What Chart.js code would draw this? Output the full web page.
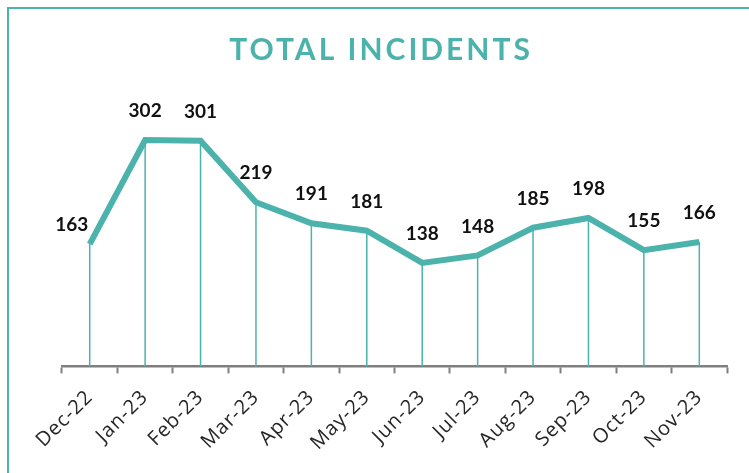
<!DOCTYPE html>
<html>
<head>
<meta charset="utf-8">
<script src="https://cdn.jsdelivr.net/npm/chart.js@4/dist/chart.umd.min.js"></script>
<style>
  html, body { margin: 0; padding: 0; background: #fff; overflow: hidden; }
  #frame {
    position: absolute; left: 7px; top: 7px; width: 900px; height: 700px;
    border: 2px solid #4bb3ac; box-sizing: border-box;
  }
  #wrap { position: absolute; left: 0; top: 0; width: 749px; height: 473px; }
</style>
</head>
<body>
<div id="frame"></div>
<div id="wrap"><canvas id="incidentsChart" width="749" height="473"></canvas></div>
<script>
// chart data
const months = ["Dec-22", "Jan-23", "Feb-23", "Mar-23", "Apr-23", "May-23",
  "Jun-23", "Jul-23", "Aug-23", "Sep-23", "Oct-23", "Nov-23"];
const incidents = [163, 302, 301, 219, 191, 181, 138, 148, 185, 198, 155, 166];
const chartTitle = "TOTAL INCIDENTS";

const teal = "#4bb3ac";

// wider letter spacing for the month labels
const tickSpacing = {
  id: "tickSpacing",
  beforeLayout(chart) { chart.ctx.letterSpacing = "1px"; },
  afterLayout(chart) { chart.ctx.letterSpacing = "0px"; },
  beforeDraw(chart) { chart.ctx.letterSpacing = "1px"; },
  afterDraw(chart) { chart.ctx.letterSpacing = "0px"; }
};

// spaced-out title drawn at the top
const spacedTitle = {
  id: "spacedTitle",
  afterDraw(chart) {
    const ctx = chart.ctx;
    ctx.save();
    ctx.font = "bold 30px Lato";
    ctx.letterSpacing = "3px";
    ctx.fillStyle = teal;
    ctx.textAlign = "center";
    ctx.textBaseline = "alphabetic";
    ctx.fillText(chartTitle, 381, 60);
    ctx.restore();
  }
};

// thin vertical lines from each point down to the x axis
const dropLines = {
  id: "dropLines",
  beforeDatasetsDraw(chart) {
    const ctx = chart.ctx;
    const meta = chart.getDatasetMeta(0);
    const bottom = chart.scales.y.getPixelForValue(0);
    ctx.save();
    ctx.strokeStyle = teal;
    ctx.lineWidth = 1.5;
    meta.data.forEach(pt => {
      ctx.beginPath();
      ctx.moveTo(pt.x, pt.y);
      ctx.lineTo(pt.x, bottom);
      ctx.stroke();
    });
    ctx.restore();
  }
};

// value labels above points (first one sits up-left of its point)
const valueLabels = {
  id: "valueLabels",
  afterDatasetsDraw(chart) {
    const ctx = chart.ctx;
    const meta = chart.getDatasetMeta(0);
    ctx.save();
    ctx.font = "bold 19px Lato";
    ctx.letterSpacing = "0px";
    ctx.fillStyle = "#111";
    ctx.textAlign = "center";
    ctx.textBaseline = "middle";
    meta.data.forEach((pt, i) => {
      const dx = i === 0 ? -18 : 0;
      const dy = i === 0 ? -19 : -29;
      ctx.fillText(incidents[i], pt.x + dx, pt.y + dy);
    });
    ctx.restore();
  }
};

window.onload = function () {
  const ctx = document.getElementById("incidentsChart").getContext("2d");
  new Chart(ctx, {
    type: "line",
    data: {
      labels: months,
      datasets: [{
        label: "Total Incidents",
        data: incidents,
        borderColor: teal,
        borderWidth: 6,
        pointRadius: 0,
        tension: 0,
        fill: false
      }]
    },
    options: {
      responsive: false,
      animation: false,
      layout: { padding: { left: 62, right: 22, top: 104, bottom: 6 } },
      plugins: {
        legend: { display: false },
        tooltip: { enabled: false },
        title: { display: false }
      },
      scales: {
        x: {
          offset: true,
          grid: {
            offset: true,
            drawOnChartArea: false,
            drawTicks: true,
            tickLength: 7,
            tickWidth: 2,
            tickColor: "#7f7f7f"
          },
          border: { color: "#7f7f7f", width: 2.5 },
          ticks: {
            color: "#262626",
            font: { family: "'Open Sans'", size: 20 },
            minRotation: 45,
            maxRotation: 45,
            padding: 12
          }
        },
        y: {
          display: false,
          min: 0,
          max: 350
        }
      }
    },
    plugins: [tickSpacing, dropLines, valueLabels, spacedTitle]
  });
};
</script>
</body>
</html>
